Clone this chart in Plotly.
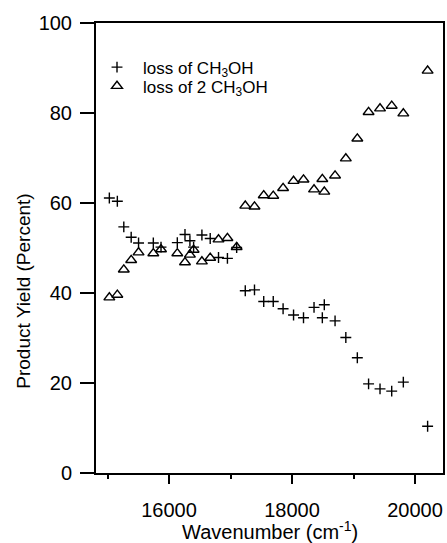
import plotly.graph_objects as go

wavenumber = [15030, 15160, 15265, 15385, 15505, 15745, 15870, 16135, 16260, 16340,
              16400, 16535, 16670, 16805, 16950, 17100, 17240, 17390, 17540, 17695,
              17855, 18025, 18187, 18358, 18493, 18525, 18700, 18875, 19062, 19245,
              19431, 19621, 19810, 20205]

loss_ch3oh = [61.1, 60.4, 54.7, 52.4, 51.1, 51.1, 50.2, 51.2, 53.0, 51.6,
              50.2, 52.9, 52.1, 47.9, 47.7, 50.1, 40.5, 40.7, 38.1, 38.1,
              36.5, 35.1, 34.5, 36.8, 34.5, 37.4, 33.8, 30.1, 25.6, 19.8,
              18.7, 18.2, 20.2, 10.4]

loss_2ch3oh = [39.0, 39.6, 45.2, 47.3, 49.0, 48.8, 49.7, 48.8, 46.8, 48.5,
               49.6, 47.0, 47.8, 51.9, 52.2, 50.2, 59.4, 59.2, 61.7, 61.6,
               63.3, 64.9, 65.2, 63.0, 65.3, 62.5, 66.1, 69.9, 74.3, 80.2,
               81.0, 81.6, 79.9, 89.4]

FONT = "Liberation Sans, Arial, Helvetica, sans-serif"

fig = go.Figure()
fig.add_trace(go.Scatter(
    x=wavenumber, y=loss_ch3oh, mode="markers",
    name="loss of CH<sub>3</sub>OH", legend="legend",
    marker=dict(symbol="cross-thin", size=7.8, color="black",
                line=dict(color="black", width=1.4)),
))
fig.add_trace(go.Scatter(
    x=wavenumber, y=loss_2ch3oh, mode="markers",
    name="loss of 2 CH<sub>3</sub>OH", legend="legend2",
    marker=dict(symbol="triangle-up-open", size=9.5, color="black",
                line=dict(color="black", width=1.4)),
))

legend_common = dict(xanchor="left", yanchor="top", bgcolor="rgba(0,0,0,0)",
                     font=dict(size=17, family=FONT, color="black"),
                     itemwidth=42)

fig.update_layout(
    width=447, height=543,
    margin=dict(l=96, r=4, t=23, b=70, autoexpand=False),
    paper_bgcolor="white", plot_bgcolor="white",
    font=dict(family=FONT, color="black", size=20),
    showlegend=True,
    legend=dict(x=-0.0144, y=0.941, **legend_common),
    legend2=dict(x=-0.0144, y=0.899, **legend_common),
    xaxis=dict(
        range=[14813, 20455], automargin=False,
        tickvals=[16000, 18000, 20000],
        ticktext=["16000", "18000", "20000"],
        ticks="outside", ticklen=9, tickwidth=2, tickcolor="black",
        minor=dict(tickvals=[15000, 17000, 19000], ticks="outside",
                   ticklen=4, tickwidth=2, tickcolor="black"),
        showline=True, linewidth=2, linecolor="black", mirror=True,
        showgrid=False, zeroline=False,
        tickfont=dict(size=20, family=FONT),
        ticklabelstandoff=9,
    ),
    yaxis=dict(
        range=[0, 100], automargin=False,
        tickvals=[0, 20, 40, 60, 80, 100],
        ticks="outside", ticklen=14, tickwidth=2, tickcolor="black",
        showline=True, linewidth=2, linecolor="black", mirror=True,
        showgrid=False, zeroline=False,
        tickfont=dict(size=20, family=FONT),
        ticklabelstandoff=4,
    ),
    annotations=[
        dict(text="Product Yield (Percent)", textangle=-90,
             xref="paper", yref="paper", x=-0.2075, y=0.405,
             xanchor="center", yanchor="middle", showarrow=False,
             font=dict(size=19, family=FONT, color="black")),
        dict(text="Wavenumber (cm<sup>-1</sup>)",
             xref="paper", yref="paper", x=0.5, y=-0.1285,
             xanchor="center", yanchor="middle", showarrow=False,
             font=dict(size=20, family=FONT, color="black")),
    ],
)

fig.write_html(
    "out.html",
    config={"displayModeBar": False},
    post_script="document.body.style.margin='0';document.body.style.overflow='hidden';",
)
